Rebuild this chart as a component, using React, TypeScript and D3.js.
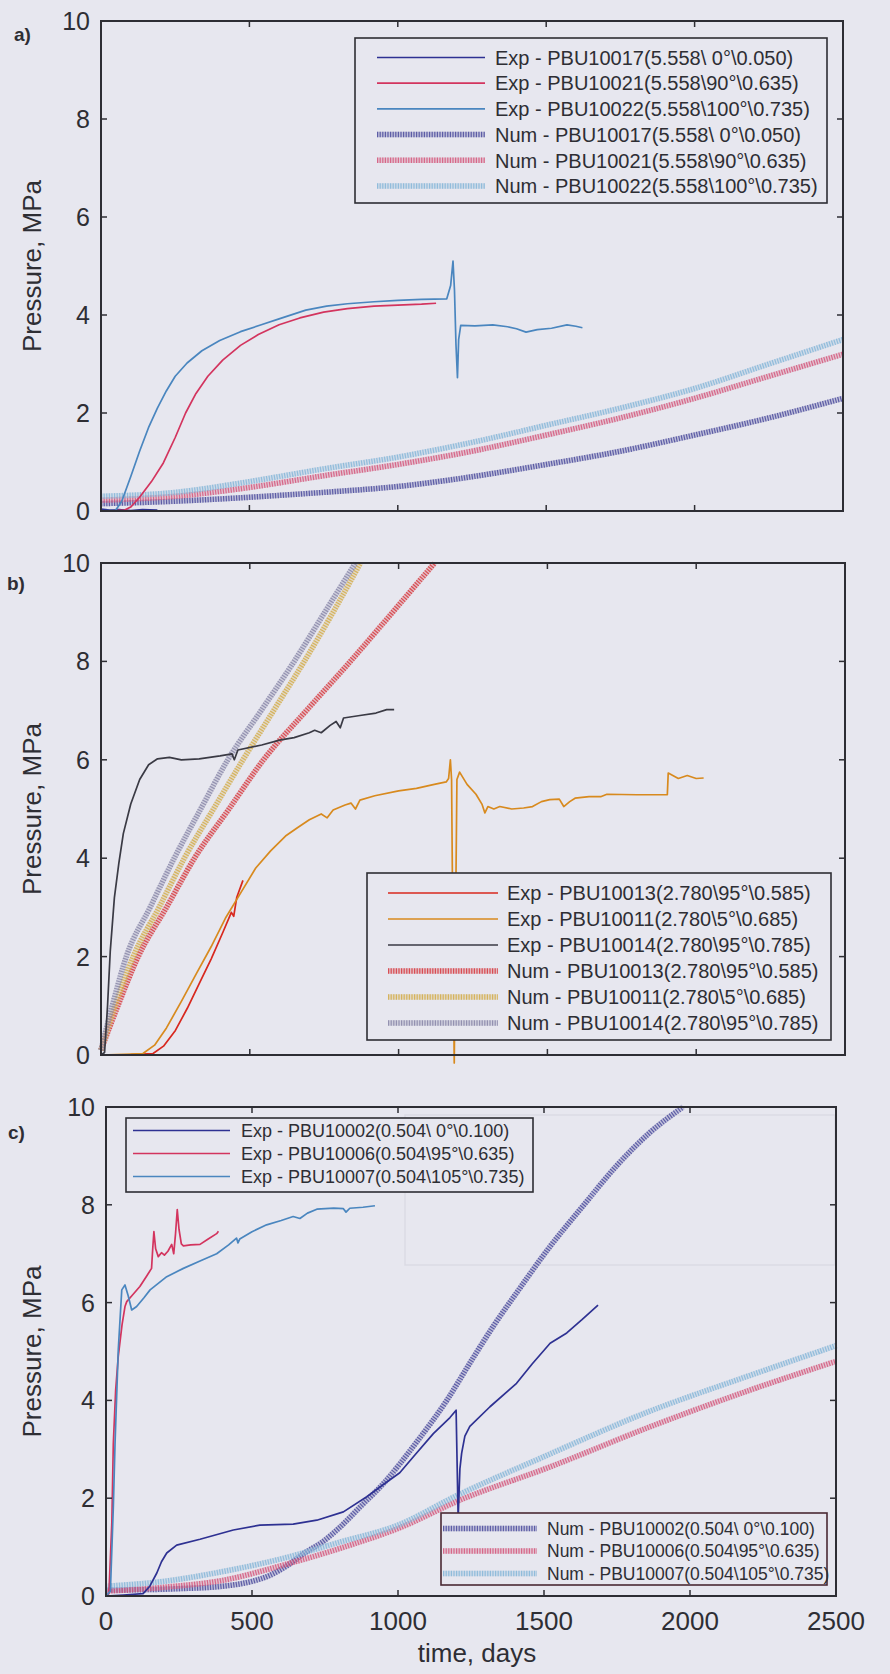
import React from 'react';
import * as d3 from 'd3';

type Pt = [number, number];

const X_TICKS = [0, 500, 1000, 1500, 2000, 2500];
const Y_TICKS = [0, 2, 4, 6, 8, 10];
const X_TITLE = 'time, days';
const Y_TITLE = 'Pressure, MPa';

// ---------- Panel a ----------
const A_EXP_10017: Pt[] = [[0, 0.04], [30, 0.02], [60, 0.03], [100, 0.01], [140, 0.03], [190, 0.02]];
const A_EXP_10021: Pt[] = [[0, 0], [80, 0.02], [100, 0.08], [130, 0.28], [170, 0.6], [210, 0.98], [250, 1.5], [285, 2.0], [320, 2.4], [360, 2.75], [410, 3.08], [470, 3.38], [530, 3.6], [600, 3.8], [670, 3.94], [750, 4.06], [830, 4.13], [920, 4.18], [1000, 4.2], [1080, 4.22], [1129, 4.24]];
const A_EXP_10022: Pt[] = [[0, 0], [50, 0.02], [70, 0.2], [100, 0.7], [130, 1.22], [160, 1.7], [190, 2.1], [220, 2.45], [250, 2.75], [290, 3.02], [340, 3.27], [400, 3.48], [470, 3.66], [540, 3.8], [600, 3.92], [690, 4.1], [760, 4.18], [830, 4.23], [920, 4.27], [1000, 4.3], [1080, 4.32], [1165, 4.33], [1178, 4.6], [1186, 5.1], [1191, 4.5], [1196, 3.4], [1201, 2.72], [1205, 3.5], [1212, 3.79], [1260, 3.78], [1320, 3.8], [1370, 3.76], [1400, 3.72], [1432, 3.65], [1470, 3.7], [1518, 3.73], [1570, 3.8], [1600, 3.77], [1622, 3.74]];
const A_NUM_10017: Pt[] = [[0, 0.15], [250, 0.2], [500, 0.28], [750, 0.38], [1000, 0.5], [1250, 0.7], [1500, 0.95], [1750, 1.22], [2000, 1.55], [2250, 1.9], [2500, 2.3]];
const A_NUM_10021: Pt[] = [[0, 0.22], [250, 0.3], [500, 0.48], [750, 0.72], [1000, 0.95], [1250, 1.22], [1500, 1.55], [1750, 1.9], [2000, 2.3], [2250, 2.75], [2500, 3.2]];
const A_NUM_10022: Pt[] = [[0, 0.3], [250, 0.38], [500, 0.6], [750, 0.86], [1000, 1.1], [1250, 1.4], [1500, 1.75], [1750, 2.1], [2000, 2.5], [2250, 3.0], [2500, 3.5]];
const A_LABELS = [
  'Exp - PBU10017(5.558\\ 0°\\0.050)',
  'Exp - PBU10021(5.558\\90°\\0.635)',
  'Exp - PBU10022(5.558\\100°\\0.735)',
  'Num - PBU10017(5.558\\ 0°\\0.050)',
  'Num - PBU10021(5.558\\90°\\0.635)',
  'Num - PBU10022(5.558\\100°\\0.735)',
];

// ---------- Panel b ----------
const B_EXP_10013: Pt[] = [[0, 0], [100, 0.01], [175, 0.03], [210, 0.18], [250, 0.5], [290, 0.95], [330, 1.45], [370, 1.95], [410, 2.5], [438, 2.9], [446, 2.82], [456, 3.2], [477, 3.55]];
const B_EXP_10011: Pt[] = [[0, 0], [100, 0.02], [141, 0.03], [180, 0.2], [220, 0.55], [271, 1.1], [320, 1.65], [370, 2.2], [420, 2.8], [470, 3.3], [520, 3.8], [570, 4.15], [620, 4.45], [660, 4.62], [700, 4.78], [740, 4.9], [760, 4.82], [780, 4.98], [820, 5.08], [840, 5.12], [855, 5.0], [870, 5.18], [920, 5.27], [1000, 5.37], [1060, 5.42], [1120, 5.5], [1160, 5.55], [1168, 5.62], [1174, 6.0], [1178, 5.6], [1183, 2.0], [1187, -0.16], [1191, 2.5], [1196, 5.6], [1205, 5.75], [1230, 5.5], [1260, 5.3], [1280, 5.1], [1290, 4.92], [1300, 5.05], [1320, 5.0], [1340, 5.05], [1380, 5.0], [1420, 5.02], [1450, 5.05], [1480, 5.15], [1508, 5.19], [1540, 5.2], [1555, 5.05], [1575, 5.15], [1593, 5.22], [1640, 5.25], [1679, 5.25], [1700, 5.3], [1800, 5.29], [1903, 5.29], [1906, 5.73], [1940, 5.62], [1970, 5.68], [2000, 5.62], [2025, 5.63]];
const B_EXP_10014: Pt[] = [[0, 0], [12, 0.05], [22, 1.0], [31, 2.1], [45, 3.2], [60, 3.9], [75, 4.5], [100, 5.1], [130, 5.6], [160, 5.9], [190, 6.02], [230, 6.05], [270, 6.0], [330, 6.02], [400, 6.08], [440, 6.12], [448, 6.0], [460, 6.2], [540, 6.3], [600, 6.4], [649, 6.45], [700, 6.55], [718, 6.6], [740, 6.55], [770, 6.7], [790, 6.78], [804, 6.65], [815, 6.85], [870, 6.9], [924, 6.95], [960, 7.02], [985, 7.02]];
const B_NUM_10013: Pt[] = [[0, 0.1], [60, 1.05], [125, 2], [220, 3.0], [314, 4], [430, 5.0], [546, 6], [690, 7.0], [838, 8], [980, 9.0], [1121, 10]];
const B_NUM_10011: Pt[] = [[0, 0.1], [50, 1.05], [108, 2], [195, 3.0], [280, 4], [378, 5.0], [477, 6], [580, 7.0], [683, 8], [780, 9.0], [872, 10]];
const B_NUM_10014: Pt[] = [[0, 0.1], [40, 1.05], [85, 2], [165, 3.0], [246, 4], [335, 5.0], [426, 6], [538, 7.0], [649, 8], [752, 9.0], [855, 10]];
const B_LABELS = [
  'Exp - PBU10013(2.780\\95°\\0.585)',
  'Exp - PBU10011(2.780\\5°\\0.685)',
  'Exp - PBU10014(2.780\\95°\\0.785)',
  'Num - PBU10013(2.780\\95°\\0.585)',
  'Num - PBU10011(2.780\\5°\\0.685)',
  'Num - PBU10014(2.780\\95°\\0.785)',
];

// ---------- Panel c ----------
const C_EXP_10002: Pt[] = [[0, 0], [60, 0.02], [127, 0.05], [150, 0.2], [174, 0.47], [190, 0.7], [208, 0.88], [242, 1.04], [322, 1.16], [436, 1.35], [527, 1.45], [641, 1.47], [722, 1.55], [813, 1.72], [893, 2.03], [950, 2.28], [1006, 2.52], [1060, 2.9], [1121, 3.32], [1178, 3.65], [1199, 3.8], [1206, 1.59], [1212, 2.6], [1218, 2.92], [1229, 3.27], [1246, 3.47], [1315, 3.87], [1406, 4.35], [1460, 4.75], [1521, 5.17], [1578, 5.38], [1630, 5.65], [1685, 5.95]];
const C_EXP_10006: Pt[] = [[0, 0], [10, 0.05], [20, 1.5], [25, 3.1], [33, 4.2], [42, 4.9], [55, 5.55], [65, 5.92], [71, 6.02], [90, 6.15], [116, 6.33], [140, 6.55], [156, 6.7], [160, 7.1], [164, 7.45], [170, 7.1], [179, 6.94], [190, 7.02], [200, 6.97], [212, 7.05], [225, 7.19], [232, 7.0], [238, 7.4], [244, 7.9], [250, 7.5], [258, 7.2], [265, 7.16], [290, 7.18], [322, 7.19], [350, 7.3], [379, 7.41], [385, 7.46]];
const C_EXP_10007: Pt[] = [[0, 0], [15, 0.1], [25, 1.8], [31, 3.13], [42, 5.03], [54, 6.26], [65, 6.36], [76, 6.14], [88, 5.85], [105, 5.92], [130, 6.1], [151, 6.26], [208, 6.53], [265, 6.7], [322, 6.85], [379, 7.0], [420, 7.18], [447, 7.32], [452, 7.22], [458, 7.3], [500, 7.45], [550, 7.59], [600, 7.68], [641, 7.76], [664, 7.72], [690, 7.83], [722, 7.91], [780, 7.93], [813, 7.92], [822, 7.85], [835, 7.93], [880, 7.95], [921, 7.98]];
const C_NUM_10002: Pt[] = [[0, 0.12], [250, 0.15], [400, 0.2], [500, 0.3], [560, 0.42], [620, 0.62], [680, 0.88], [740, 1.1], [800, 1.4], [870, 1.82], [950, 2.3], [1064, 3.15], [1167, 4.0], [1250, 4.8], [1330, 5.55], [1406, 6.2], [1521, 7.15], [1634, 7.98], [1749, 8.8], [1863, 9.48], [1976, 10]];
const C_NUM_10006: Pt[] = [[0, 0.1], [200, 0.18], [400, 0.32], [600, 0.62], [836, 1.04], [1000, 1.38], [1212, 1.96], [1521, 2.64], [1863, 3.46], [2205, 4.21], [2500, 4.8]];
const C_NUM_10007: Pt[] = [[0, 0.2], [200, 0.3], [400, 0.5], [600, 0.76], [800, 1.1], [1000, 1.45], [1200, 2.05], [1500, 2.85], [1850, 3.75], [2200, 4.5], [2500, 5.12]];
const C_EXP_LABELS = [
  'Exp - PBU10002(0.504\\ 0°\\0.100)',
  'Exp - PBU10006(0.504\\95°\\0.635)',
  'Exp - PBU10007(0.504\\105°\\0.735)',
];
const C_NUM_LABELS = [
  'Num - PBU10002(0.504\\ 0°\\0.100)',
  'Num - PBU10006(0.504\\95°\\0.635)',
  'Num - PBU10007(0.504\\105°\\0.735)',
];

const BG = '#e7e7ef';
const INK = '#2e2e34';
const FONT = '"Liberation Sans", Arial, Helvetica, sans-serif';

type Series = { data: Pt[]; color: string; kind: 'exp' | 'num' };
type LegendCfg = {
  x: number; y: number; w: number; h: number; row0: number; dy: number;
  s0: number; s1: number; tx: number; fs: number; stroke: string;
  items: { label: string; color: string; kind: 'exp' | 'num' }[];
};
type PanelCfg = {
  left: number; right: number; top: number; bottom: number;
  tag: string; tagX: number; tagY: number; xLabels: boolean;
  series: Series[]; legends: LegendCfg[];
};

const NAVY = '#2e3192', CRIMSON = '#d3345e', STEEL = '#4a86bf';
const NAVY_N = '#4b4b9c', CRIMSON_N = '#d4587c', STEEL_N = '#86b6d8';
const RED_B = '#d8281e', ORANGE_B = '#d88a1e', GRAY_B = '#3a3a44';
const RED_BN = '#d63a40', ORANGE_BN = '#d2ad4a', GRAY_BN = '#8886a8';

function SeriesPath({ d, color, kind }: { d: string; color: string; kind: 'exp' | 'num' }) {
  if (kind === 'exp') {
    return <path d={d} fill="none" stroke={color} strokeWidth={1.7} strokeLinejoin="round" />;
  }
  return (
    <g>
      <path d={d} fill="none" stroke={color} strokeOpacity={0.25} strokeWidth={5.5} />
      <path d={d} fill="none" stroke={color} strokeOpacity={0.85} strokeWidth={5.5} strokeDasharray="1.2 1.4" />
    </g>
  );
}

function Legend({ cfg }: { cfg: LegendCfg }) {
  return (
    <g>
      <rect x={cfg.x} y={cfg.y} width={cfg.w} height={cfg.h} fill={BG} stroke={cfg.stroke} strokeWidth={1.6} />
      {cfg.items.map((it, i) => {
        const yy = cfg.row0 + i * cfg.dy;
        return (
          <g key={i}>
            <SeriesPath d={`M${cfg.s0},${yy}L${cfg.s1},${yy}`} color={it.color} kind={it.kind} />
            <text x={cfg.tx} y={yy} dy="0.36em" fontSize={cfg.fs} fill={INK} fontFamily={FONT}>{it.label}</text>
          </g>
        );
      })}
    </g>
  );
}

function Panel({ cfg }: { cfg: PanelCfg }) {
  const x = d3.scaleLinear().domain([0, 2500]).range([cfg.left, cfg.right]);
  const y = d3.scaleLinear().domain([0, 10]).range([cfg.bottom, cfg.top]);
  const expLine = d3.line<Pt>().x((p) => x(p[0])).y((p) => y(p[1]));
  const numLine = d3.line<Pt>().x((p) => x(p[0])).y((p) => y(p[1])).curve(d3.curveMonotoneX);
  const tl = 6;
  const nums = cfg.series.filter((s) => s.kind === 'num');
  const exps = cfg.series.filter((s) => s.kind === 'exp');
  return (
    <g>
      {nums.map((s, i) => <SeriesPath key={'n' + i} d={numLine(s.data) || ''} color={s.color} kind="num" />)}
      {exps.map((s, i) => <SeriesPath key={'e' + i} d={expLine(s.data) || ''} color={s.color} kind="exp" />)}
      {cfg.legends.map((l, i) => <Legend key={i} cfg={l} />)}
      <rect x={cfg.left} y={cfg.top} width={cfg.right - cfg.left} height={cfg.bottom - cfg.top} fill="none" stroke={INK} strokeWidth={2} />
      {X_TICKS.slice(1, -1).map((t) => (
        <g key={'xt' + t}>
          <line x1={x(t)} x2={x(t)} y1={cfg.bottom} y2={cfg.bottom - tl} stroke={INK} strokeWidth={1.5} />
          <line x1={x(t)} x2={x(t)} y1={cfg.top} y2={cfg.top + tl} stroke={INK} strokeWidth={1.5} />
        </g>
      ))}
      {Y_TICKS.slice(1, -1).map((t) => (
        <g key={'yt' + t}>
          <line x1={cfg.left} x2={cfg.left + tl} y1={y(t)} y2={y(t)} stroke={INK} strokeWidth={1.5} />
          <line x1={cfg.right} x2={cfg.right - tl} y1={y(t)} y2={y(t)} stroke={INK} strokeWidth={1.5} />
        </g>
      ))}
      {Y_TICKS.map((t) => (
        <text key={'yl' + t} x={cfg.left - 11} y={y(t)} dy="0.36em" textAnchor="end" fontSize={25} fill={INK} fontFamily={FONT}>{t}</text>
      ))}
      {cfg.xLabels && X_TICKS.map((t) => (
        <text key={'xl' + t} x={x(t)} y={cfg.bottom + 34} textAnchor="middle" fontSize={26} fill={INK} fontFamily={FONT}>{t}</text>
      ))}
      <text transform={`translate(41,${(cfg.top + cfg.bottom) / 2}) rotate(-90)`} textAnchor="middle" fontSize={26} fill={INK} fontFamily={FONT}>{Y_TITLE}</text>
      <text x={cfg.tagX} y={cfg.tagY} fontSize={19} fontWeight="bold" fill={INK} fontFamily={FONT}>{cfg.tag}</text>
    </g>
  );
}

const PANELS: PanelCfg[] = [
  {
    left: 101, right: 843, top: 21, bottom: 511, tag: 'a)', tagX: 14, tagY: 41, xLabels: false,
    series: [
      { data: A_EXP_10017, color: NAVY, kind: 'exp' },
      { data: A_EXP_10021, color: CRIMSON, kind: 'exp' },
      { data: A_EXP_10022, color: STEEL, kind: 'exp' },
      { data: A_NUM_10017, color: NAVY_N, kind: 'num' },
      { data: A_NUM_10021, color: CRIMSON_N, kind: 'num' },
      { data: A_NUM_10022, color: STEEL_N, kind: 'num' },
    ],
    legends: [{
      x: 355, y: 38, w: 472, h: 165, row0: 57.5, dy: 25.7, s0: 377, s1: 485, tx: 495, fs: 20, stroke: INK,
      items: A_LABELS.map((label, i) => ({ label, color: [NAVY, CRIMSON, STEEL, NAVY_N, CRIMSON_N, STEEL_N][i], kind: i < 3 ? 'exp' : 'num' })),
    }],
  },
  {
    left: 101, right: 845, top: 563, bottom: 1055, tag: 'b)', tagX: 7, tagY: 590, xLabels: false,
    series: [
      { data: B_EXP_10013, color: RED_B, kind: 'exp' },
      { data: B_EXP_10011, color: ORANGE_B, kind: 'exp' },
      { data: B_EXP_10014, color: GRAY_B, kind: 'exp' },
      { data: B_NUM_10013, color: RED_BN, kind: 'num' },
      { data: B_NUM_10011, color: ORANGE_BN, kind: 'num' },
      { data: B_NUM_10014, color: GRAY_BN, kind: 'num' },
    ],
    legends: [{
      x: 367, y: 873, w: 464, h: 167, row0: 893, dy: 26, s0: 388, s1: 498, tx: 507, fs: 20, stroke: INK,
      items: B_LABELS.map((label, i) => ({ label, color: [RED_B, ORANGE_B, GRAY_B, RED_BN, ORANGE_BN, GRAY_BN][i], kind: i < 3 ? 'exp' : 'num' })),
    }],
  },
  {
    left: 106, right: 836, top: 1107, bottom: 1596, tag: 'c)', tagX: 8, tagY: 1139, xLabels: true,
    series: [
      { data: C_EXP_10002, color: NAVY, kind: 'exp' },
      { data: C_EXP_10006, color: CRIMSON, kind: 'exp' },
      { data: C_EXP_10007, color: STEEL, kind: 'exp' },
      { data: C_NUM_10002, color: NAVY_N, kind: 'num' },
      { data: C_NUM_10006, color: CRIMSON_N, kind: 'num' },
      { data: C_NUM_10007, color: STEEL_N, kind: 'num' },
    ],
    legends: [
      {
        x: 126, y: 1118, w: 407, h: 74, row0: 1130.5, dy: 23, s0: 133, s1: 230, tx: 241, fs: 18, stroke: INK,
        items: C_EXP_LABELS.map((label, i) => ({ label, color: [NAVY, CRIMSON, STEEL][i], kind: 'exp' })),
      },
      {
        x: 441, y: 1513, w: 386, h: 72, row0: 1528.5, dy: 22.5, s0: 443, s1: 537, tx: 547, fs: 17.5, stroke: '#4a2a34',
        items: C_NUM_LABELS.map((label, i) => ({ label, color: [NAVY_N, CRIMSON_N, STEEL_N][i], kind: 'num' })),
      },
    ],
  },
];

export default function App() {
  return (
    <svg width={890} height={1674} style={{ position: 'absolute', left: 0, top: 0, background: BG }}>
      <rect x={0} y={0} width={890} height={1674} fill={BG} />
      <rect x={405} y={1115} width={430} height={150} fill="none" stroke="#8a8a9a" strokeOpacity={0.12} strokeWidth={1.5} />
      {PANELS.map((p, i) => <Panel key={i} cfg={p} />)}
      <text x={477} y={1662} textAnchor="middle" fontSize={26} fill={INK} fontFamily={FONT}>{X_TITLE}</text>
    </svg>
  );
}
